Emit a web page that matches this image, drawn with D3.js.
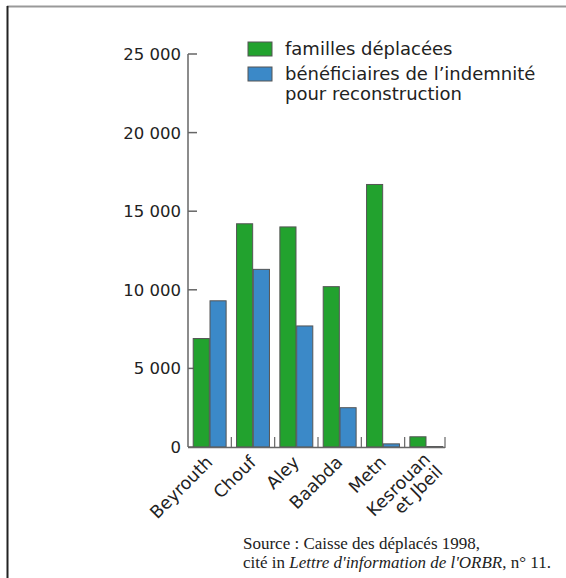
<!DOCTYPE html>
<html><head><meta charset="utf-8">
<script src="https://cdn.jsdelivr.net/npm/d3@7"></script>
<style>body{margin:0;background:#fff}svg{display:block}</style>
</head><body>
<script>
const categories = ["Beyrouth","Chouf","Aley","Baabda","Metn","Kesrouan\net Jbeil"];
const familles = [6900,14200,14000,10200,16700,650];
const beneficiaires = [9300,11300,7700,2500,200,30];
const seriesNames = ["familles déplacées","bénéficiaires de l’indemnité\npour reconstruction"];
const seriesColors = ["#22a22e","#3b89c8"];
const yTicks = [0,5000,10000,15000,20000,25000];

const W=566,H=578;
const svg=d3.select("body").append("svg").attr("width",W).attr("height",H);

// frame
svg.append("line").attr("x1",7).attr("x2",W).attr("y1",6.5).attr("y2",6.5).attr("stroke","#999").attr("stroke-width",2);
svg.append("line").attr("x1",7.5).attr("x2",7.5).attr("y1",6).attr("y2",H).attr("stroke","#222").attr("stroke-width",2);

const x0=188, y0=447;
const x=d3.scaleBand().domain(categories).range([x0,448]).paddingInner(0).paddingOuter(0);
const y=d3.scaleLinear().domain([0,25000]).range([y0,54]);
const xs=d3.scaleBand().domain([0,1]).range([0,x.bandwidth()]).paddingInner(0.04).paddingOuter(0.31);

const font="DejaVu Sans";
// y axis
svg.append("line").attr("x1",x0).attr("x2",x0).attr("y1",y(25000)).attr("y2",y0).attr("stroke","#666").attr("stroke-width",1.5);
const yt=svg.append("g");
yTicks.forEach(t=>{
  yt.append("line").attr("x1",x0).attr("x2",x0+9).attr("y1",y(t)).attr("y2",y(t)).attr("stroke","#666").attr("stroke-width",1.5);
  yt.append("text").attr("x",181).attr("y",y(t)).attr("dy","0.36em").attr("text-anchor","end")
    .attr("font-family",font).attr("font-size",16.5).attr("fill","#222")
    .text(d3.format(",")(t).replace(/,/g," "));
});

// bars
const data=categories.map((c,i)=>({c,v:[familles[i],beneficiaires[i]]}));
const g=svg.append("g");
data.forEach(d=>{
  d.v.forEach((v,j)=>{
    g.append("rect").attr("x",x(d.c)+xs(j)).attr("width",xs.bandwidth())
      .attr("y",y(v)).attr("height",y0-y(v))
      .attr("fill",seriesColors[j]).attr("stroke","#555").attr("stroke-width",1);
  });
});

// x axis baseline and separators
svg.append("line").attr("x1",x0).attr("x2",x.range()[1]-3).attr("y1",y0+0.5).attr("y2",y0+0.5).attr("stroke","#666").attr("stroke-width",1.5);
categories.forEach((c,i)=>{
  const sx=x(c)+x.bandwidth()-(i==categories.length-1?3:0);
  svg.append("line").attr("x1",sx).attr("x2",sx).attr("y1",y0+1).attr("y2",y0-10).attr("stroke","#666").attr("stroke-width",1.2);
});

// x labels
categories.forEach(c=>{
  const center=x(c)+xs(0)+xs.bandwidth();
  const lines=c.split("\n");
  let cx=center, cy=y0+12;
  if(lines.length>1){cx=center+1; cy=y0+9;}
  const t=svg.append("text").attr("transform",`translate(${cx},${cy}) rotate(-45)`)
    .attr("text-anchor","end").attr("font-family",font).attr("font-size",17.5).attr("fill","#222");
  lines.forEach((l,k)=>{
    t.append("tspan").attr("x",0).attr("dy",k==0?"0.35em":"1.0em").text(l);
  });
});

// legend
seriesNames.forEach((n,i)=>{
  const ly=42+i*25;
  svg.append("rect").attr("x",248).attr("y",ly).attr("width",24).attr("height",14)
    .attr("fill",seriesColors[i]).attr("stroke","#555").attr("stroke-width",1);
  const t=svg.append("text").attr("x",285).attr("y",ly+13).attr("font-family",font).attr("font-size",18).attr("fill","#222");
  n.split("\n").forEach((l,k)=>t.append("tspan").attr("x",285).attr("dy",k==0?0:20).text(l));
});

// source
const s=svg.append("text").attr("font-family","Liberation Serif").attr("font-size",17).attr("fill","#222");
s.append("tspan").attr("x",243).attr("y",548.5).text("Source : Caisse des déplacés 1998,");
const l2=s.append("tspan").attr("x",243).attr("y",567.5);
l2.append("tspan").text("cité in ");
l2.append("tspan").attr("font-style","italic").text("Lettre d'information de l'ORBR");
l2.append("tspan").text(", n° 11.");
</script>
</body></html>
